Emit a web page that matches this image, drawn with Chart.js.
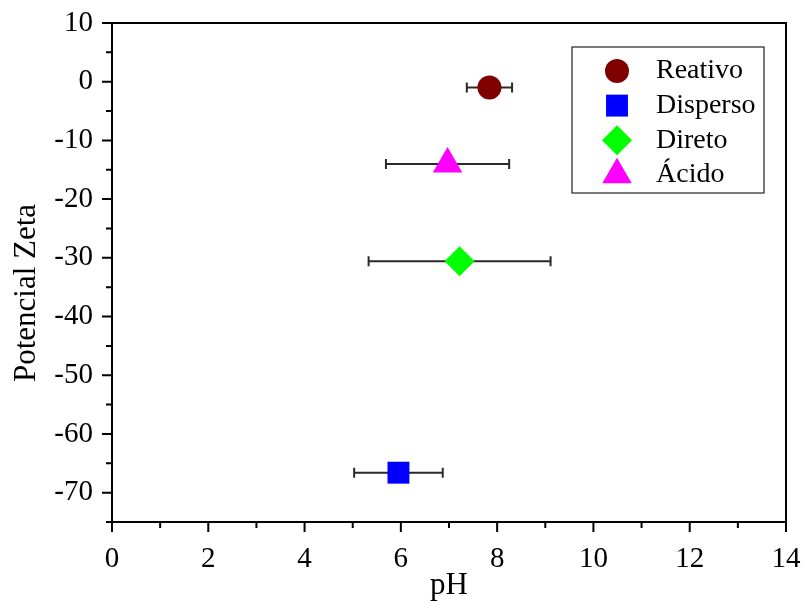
<!DOCTYPE html>
<html>
<head>
<meta charset="utf-8">
<script src="https://cdn.jsdelivr.net/npm/chart.js@4.4.1/dist/chart.umd.min.js"></script>
<style>
  html, body { margin: 0; padding: 0; background: #fff; }
  #wrap { width: 803px; height: 601px; }
</style>
</head>
<body>
<div id="wrap"><canvas id="zeta"></canvas></div>
<script>
// data
const series   = ['Reativo', 'Disperso', 'Direto', 'Ácido'];
const phValues = [7.84, 5.95, 7.22, 6.97];
const phErrors = [0.47, 0.92, 1.89, 1.28];
const zetaVals = [-1.0, -66.6, -30.6, -14.0];
const colors   = ['#800000', '#0000ff', '#00ff00', '#ff00ff'];
const shapes   = ['circle', 'rect', 'rectRot', 'triangle'];
const sizes    = [12, 15.5, 15, 17];
const xTicks   = [0, 2, 4, 6, 8, 10, 12, 14];
const xMinor   = [1, 3, 5, 7, 9, 11, 13];
const yTicks   = [-70, -60, -50, -40, -30, -20, -10, 0, 10];
const yMinor   = [-75, -65, -55, -45, -35, -25, -15, -5, 5];
const yTitle   = 'Potencial Zeta';

const serif = '"Liberation Serif", "Times New Roman", serif';

// frame, ticks out, error bars, legend box
const frameAndTicks = {
  id: 'frameAndTicks',
  beforeDatasetsDraw(chart) {
    const ctx = chart.ctx;
    const xs = chart.scales.x, ys = chart.scales.y;
    ctx.save();
    ctx.strokeStyle = '#2a2a2a';
    ctx.lineWidth = 2;
    chart.data.datasets.forEach((ds, i) => {
      const y = ys.getPixelForValue(zetaVals[i]);
      const x1 = xs.getPixelForValue(phValues[i] - phErrors[i]);
      const x2 = xs.getPixelForValue(phValues[i] + phErrors[i]);
      ctx.beginPath();
      ctx.moveTo(x1, y); ctx.lineTo(x2, y);
      ctx.moveTo(x1, y - 5); ctx.lineTo(x1, y + 5);
      ctx.moveTo(x2, y - 5); ctx.lineTo(x2, y + 5);
      ctx.stroke();
    });
    ctx.restore();
  },
  afterDraw(chart) {
    const ctx = chart.ctx;
    const a = chart.chartArea;
    const xs = chart.scales.x, ys = chart.scales.y;
    ctx.save();
    ctx.strokeStyle = '#000';
    ctx.lineWidth = 2;
    ctx.strokeRect(a.left, a.top, a.right - a.left, a.bottom - a.top);
    ctx.beginPath();
    xTicks.forEach(v => { const p = xs.getPixelForValue(v); ctx.moveTo(p, a.bottom); ctx.lineTo(p, a.bottom + 10); });
    xMinor.forEach(v => { const p = xs.getPixelForValue(v); ctx.moveTo(p, a.bottom); ctx.lineTo(p, a.bottom + 6); });
    yTicks.forEach(v => { const p = ys.getPixelForValue(v); ctx.moveTo(a.left, p); ctx.lineTo(a.left - 10, p); });
    yMinor.forEach(v => { const p = ys.getPixelForValue(v); ctx.moveTo(a.left, p); ctx.lineTo(a.left - 6, p); });
    ctx.stroke();

    // y title, sits a bit below the middle like the original
    ctx.save();
    ctx.translate(27, 293);
    ctx.rotate(-Math.PI / 2);
    ctx.font = '31px ' + serif;
    ctx.fillStyle = '#000';
    ctx.textAlign = 'center';
    ctx.textBaseline = 'middle';
    ctx.fillText(yTitle, 0, 0);
    ctx.restore();

    // legend box
    const bx = 572, by = 47, bw = 192, bh = 146;
    ctx.lineWidth = 1.2;
    ctx.strokeStyle = '#222';
    ctx.strokeRect(bx, by, bw, bh);
    ctx.font = '28px ' + serif;
    ctx.textBaseline = 'middle';
    ctx.textAlign = 'left';
    chart.data.datasets.forEach((ds, i) => {
      const ry = 71 + i * 34.6;
      ctx.fillStyle = ds.backgroundColor;
      Chart.helpers.drawPoint(ctx, {pointStyle: ds.pointStyle, radius: ds.pointRadius, borderWidth: 0}, 617, ry);
      ctx.fillStyle = '#000';
      ctx.fillText(ds.label, 656, ry);
    });
    ctx.restore();
  }
};

const datasets = series.map((name, i) => ({
  label: name,
  data: [{x: phValues[i], y: zetaVals[i]}],
  backgroundColor: colors[i],
  borderColor: colors[i],
  borderWidth: 0,
  pointStyle: shapes[i],
  pointRadius: sizes[i],
  pointHoverRadius: sizes[i],
  showLine: false
}));

new Chart(document.getElementById('zeta'), {
  type: 'scatter',
  data: { datasets: datasets },
  options: {
    responsive: true,
    maintainAspectRatio: false,
    animation: false,
    layout: { padding: { top: 23, right: 17, left: 0, bottom: 0 } },
    plugins: {
      legend: { display: false },
      tooltip: { enabled: false }
    },
    scales: {
      x: {
        type: 'linear',
        min: 0, max: 14,
        afterBuildTicks: s => { s.ticks = xTicks.map(v => ({value: v})); },
        afterFit: s => { s.height = 79; s.paddingLeft = 0; s.paddingRight = 0; },
        grid: { display: false },
        border: { display: false },
        ticks: { color: '#000', padding: 12, font: { family: serif, size: 29 } },
        title: { display: true, text: 'pH', color: '#000', padding: 0,
                 font: { family: serif, size: 31, lineHeight: 1 } }
      },
      y: {
        type: 'linear',
        min: -75, max: 10,
        afterBuildTicks: s => { s.ticks = yTicks.map(v => ({value: v})); },
        afterFit: s => { s.width = 112; s.paddingTop = 0; s.paddingBottom = 0; },
        grid: { display: false },
        border: { display: false },
        ticks: { color: '#000', padding: 11, font: { family: serif, size: 29 } },
        title: { display: false }
      }
    }
  },
  plugins: [frameAndTicks]
});
</script>
</body>
</html>
